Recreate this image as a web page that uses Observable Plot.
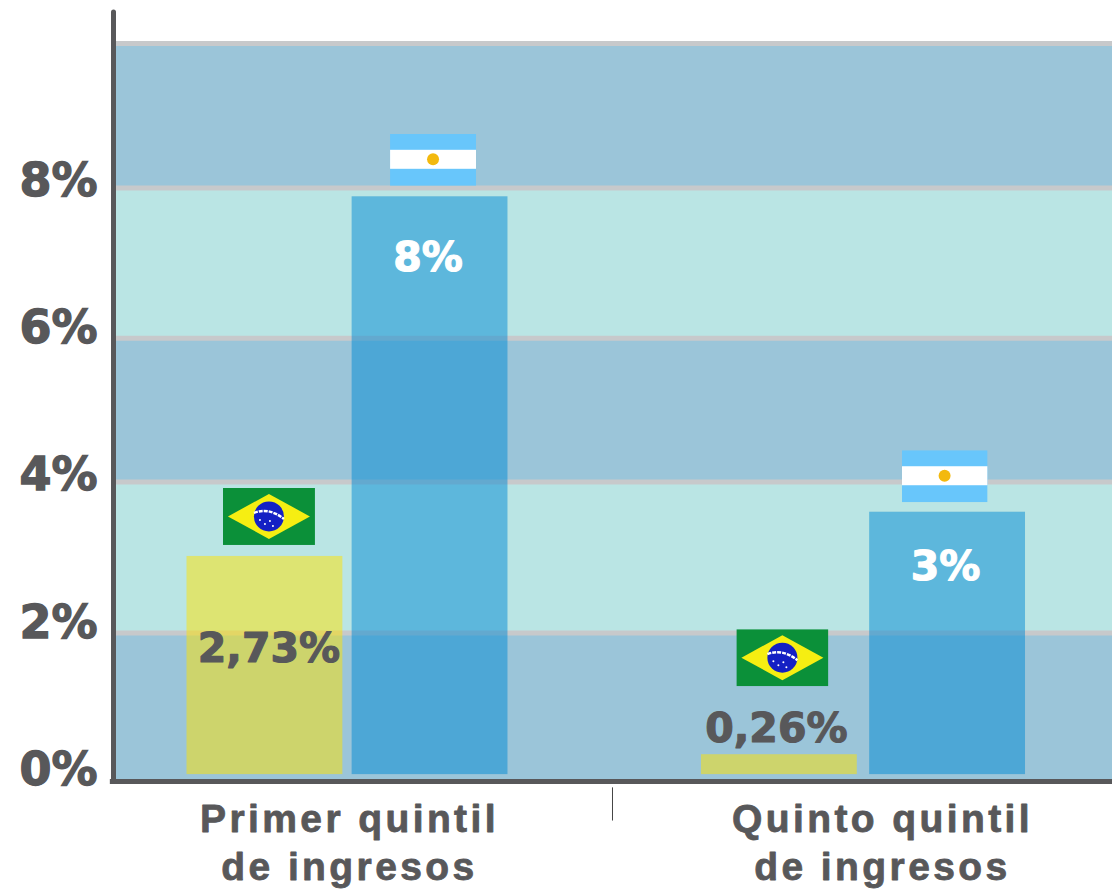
<!DOCTYPE html>
<html lang="es">
<head>
<meta charset="utf-8">
<title>Primer y quinto quintil de ingresos</title>
<script src="https://cdn.jsdelivr.net/npm/d3@7"></script>
<script src="https://cdn.jsdelivr.net/npm/@observablehq/plot@0.6"></script>
<style>
html,body{margin:0;padding:0;background:#fff}
svg{display:block}
g[aria-label="y-axis tick label"] text{stroke:#58585a;stroke-width:1.3px}
</style>
</head>
<body>
<div id="chart"></div>
<script>
// ---- values ----
const groups = ["Primer quintil\nde ingresos", "Quinto quintil\nde ingresos"];
const brasilValues = [3.04, 0.35];
const argentinaValues = [7.92, 3.64];
const brasilLabels = ["2,73%", "0,26%"];
const argentinaLabels = ["8%", "3%"];
const yTicks = [0, 2, 4, 6, 8];
const bandEdges = [0, 2, 4.05, 6, 8.04, 10];

const INK = "#58585a";
const BAND_DARK = "#9bc5d9";
const BAND_LIGHT = "#bae5e4";
const LINE = "#c7c9cb";

const svgUri = s => "data:image/svg+xml," + encodeURIComponent(s);
const flagBrasil = svgUri(`<svg xmlns="http://www.w3.org/2000/svg" viewBox="0 0 92 57" preserveAspectRatio="none"><rect width="92" height="57" fill="#0b9039"/><path d="M5 28.5L46 6L87 28.5L46 51Z" fill="#f6ee12"/><circle cx="46" cy="28.5" r="15" fill="#1420c4"/><path d="M31 25Q46 19 61 31" fill="none" stroke="#fff" stroke-width="2.4" stroke-dasharray="4 1"/><g fill="#fff"><circle cx="42" cy="36" r="1"/><circle cx="47" cy="33" r="1"/><circle cx="50" cy="38" r="1"/><circle cx="37" cy="32" r="1"/></g></svg>`);
const flagArgentina = svgUri(`<svg xmlns="http://www.w3.org/2000/svg" viewBox="0 0 86 52" preserveAspectRatio="none"><rect width="86" height="52" fill="#68c6fb"/><rect y="16" width="86" height="19" fill="#fff"/><circle cx="43" cy="25.5" r="6" fill="#f3b90e"/></svg>`);

// ---- tables for the marks ----
const barFloor = 0.08;
const halfWidth = 0.151;
const offset = 0.16;
const bars = groups.flatMap((g, i) => [
  {g, i, pais: "Brasil", value: brasilValues[i], label: brasilLabels[i], c: i - offset - 0.003 * i},
  {g, i, pais: "Argentina", value: argentinaValues[i], label: argentinaLabels[i], c: i + offset + 0.003 * i}
]);
const bands = d3.pairs(bandEdges).map(([y1, y2], k) => ({y1, y2, k}));
const of = (pais, i) => bars.filter(d => d.pais === pais && d.i === i);
const cats = groups.map((g, i) => ({g, i}));

const xMin = -0.4496, xMax = 1.4826;

const flag = (data, src, w, h, dx, dy) => Plot.image(data, {
  x: "c", y: "value", src: () => src, width: w, height: h, dx, dy, preserveAspectRatio: "none"
});
const valueLabel = (data, fill, dx, dy) => Plot.text(data, {
  x: "c", y: "value", text: "label", fill, stroke: fill, strokeWidth: 1.2, dx, dy,
  fontSize: 41, fontWeight: "bold", fontFamily: "DejaVu Sans"
});
const catLabel = (data, dx) => Plot.text(data, {
  x: "i", y: 0, text: "g", fill: INK, stroke: INK, strokeWidth: 0.8, dx, dy: 60, lineAnchor: "middle",
  lineHeight: 1.23, fontSize: 39, fontWeight: "bold",
  fontFamily: "Liberation Sans"
});

const chart = Plot.plot({
  width: 1112,
  height: 889,
  marginLeft: 115,
  marginRight: 0,
  marginTop: 43,
  marginBottom: 109,
  x: {type: "linear", domain: [xMin, xMax], axis: null},
  y: {domain: [0, 10], axis: null},
  style: {background: "#fff", overflow: "visible"},
  marks: [
    Plot.rectY(bands, {y1: "y1", y2: "y2", fill: d => d.k % 2 ? BAND_LIGHT : BAND_DARK}),
    Plot.ruleY(bandEdges.slice(1), {stroke: LINE, strokeWidth: 5}),
    Plot.rect(bars.filter(d => d.pais === "Brasil"), {
      x1: d => d.c - halfWidth, x2: d => d.c + halfWidth, y1: () => barFloor, y2: "value",
      fill: "#ffe300", fillOpacity: 0.5
    }),
    Plot.rect(bars.filter(d => d.pais === "Argentina"), {
      x1: d => d.c - halfWidth, x2: d => d.c + halfWidth, y1: () => barFloor, y2: "value",
      fill: "#0089d4", fillOpacity: 0.5
    }),
    flag(of("Brasil", 0), flagBrasil, 92, 57, 4, -40),
    flag(of("Brasil", 1), flagBrasil, 92, 57, 3, -97),
    flag(of("Argentina", 0), flagArgentina, 86, 52, 3, -37),
    flag(of("Argentina", 1), flagArgentina, 86, 52, -3, -36),
    valueLabel(of("Brasil", 0), INK, 4, 92),
    valueLabel(of("Brasil", 1), INK, -3, -26),
    valueLabel(of("Argentina", 0), "#fff", -2, 61),
    valueLabel(of("Argentina", 1), "#fff", -2, 55),
    Plot.ruleX([xMin], {y1: -0.02, y2: 10.42, stroke: INK, strokeWidth: 5, strokeLinecap: "round", dx: -2}),
    Plot.ruleY([0], {x1: xMin - 0.01, x2: xMax, stroke: INK, strokeWidth: 5, dy: 1}),
    Plot.ruleX([0.5], {y1: -0.55, y2: -0.1, stroke: "#444", strokeWidth: 1, dx: 7}),
    Plot.axisY({
      ticks: yTicks, tickFormat: d => d + "%", tickSize: 0, tickPadding: 18, label: null,
      dy: -10, fontSize: 46, fontWeight: "bold", fontFamily: "DejaVu Sans", color: INK
    }),
    catLabel(cats.filter(d => d.i === 0), 2),
    catLabel(cats.filter(d => d.i === 1), 19)
  ]
});
chart.querySelectorAll("text").forEach(t => {
  if (t.textContent.includes("ingresos")) t.style.letterSpacing = "3.4px";
});
document.getElementById("chart").append(chart);
</script>
</body>
</html>
